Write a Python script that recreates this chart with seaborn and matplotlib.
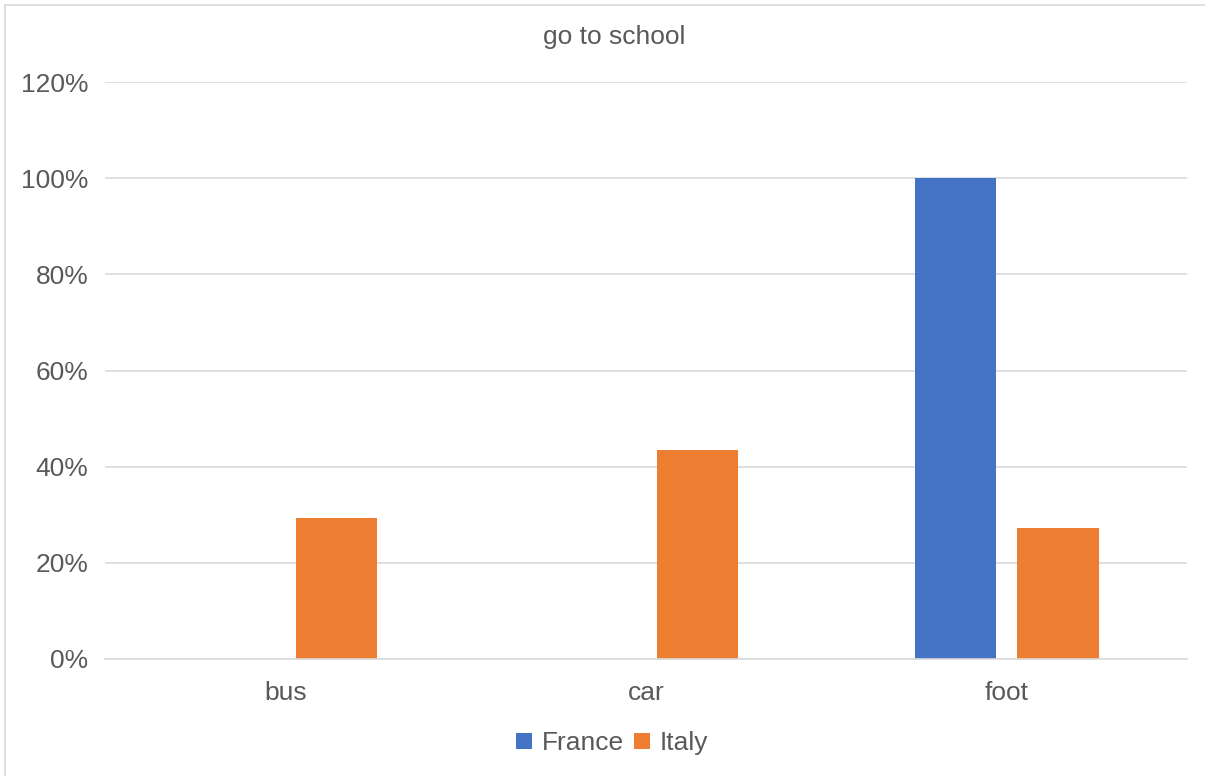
import matplotlib
matplotlib.use("Agg")
import matplotlib.pyplot as plt
from matplotlib.lines import Line2D
from matplotlib.ticker import PercentFormatter, MultipleLocator
import pandas as pd
import seaborn as sns

# Share of pupils by mode of transport
modes = ["bus", "car", "foot"]
france = [0.0, 0.0, 1.0]
italy = [0.293, 0.435, 0.272]
countries = ["France", "Italy"]
colors = ["#4472C4", "#ED7D31"]

df = pd.DataFrame({
    "mode": modes * 2,
    "share": france + italy,
    "country": ["France"] * len(modes) + ["Italy"] * len(modes),
})

sns.set_theme(style="white")
plt.rcParams["font.family"] = ["Liberation Sans", "DejaVu Sans"]
text_color = "#595959"
grid_color = "#D9D9D9"

fig = plt.figure(figsize=(12.05, 7.76), dpi=100)
ax = fig.add_axes([0.0871, 0.1508, 0.8979, 0.7435])

sns.barplot(data=df, x="mode", y="share", hue="country", order=modes,
            hue_order=countries, palette=colors, width=0.57, gap=0.21,
            linewidth=0, saturation=1, legend=False, ax=ax)

ax.set_ylim(0, 1.2)
ax.set_xlim(-0.5, 2.5)
ax.yaxis.set_major_locator(MultipleLocator(0.2))
ax.yaxis.set_major_formatter(PercentFormatter(1.0, decimals=0))
ax.grid(axis="y", color=grid_color, linewidth=1.2)
ax.set_axisbelow(True)
for side in ["left", "right", "top"]:
    ax.spines[side].set_visible(False)
ax.spines["bottom"].set_color(grid_color)
ax.spines["bottom"].set_linewidth(1.2)
ax.set_xlabel("")
ax.set_ylabel("")
ax.tick_params(axis="y", length=0, pad=12, labelsize=19, labelcolor=text_color)
ax.tick_params(axis="x", length=0, pad=16, labelsize=19, labelcolor=text_color)

fig.text(0.5095, 1 - 37 / 776, "go to school", ha="center", va="center",
         fontsize=19, color=text_color)

handles = [Line2D([], [], marker="s", linestyle="none", markersize=11,
                  markerfacecolor=c, markeredgewidth=0) for c in colors]
fig.legend(handles, countries, loc="center", bbox_to_anchor=(612 / 1205, 1 - 743 / 776),
           ncol=2, frameon=False, fontsize=19, labelcolor=text_color,
           handlelength=0.6, handletextpad=0.35, columnspacing=0.4)

# Light frame around the chart area
fig.add_artist(Line2D([5 / 1205, 5 / 1205], [0, 1 - 5 / 776], color=grid_color,
                      linewidth=1.2, transform=fig.transFigure))
fig.add_artist(Line2D([5 / 1205, 1], [1 - 5 / 776, 1 - 5 / 776], color=grid_color,
                      linewidth=1.2, transform=fig.transFigure))

fig.savefig("out.png", dpi=100, facecolor="white")
